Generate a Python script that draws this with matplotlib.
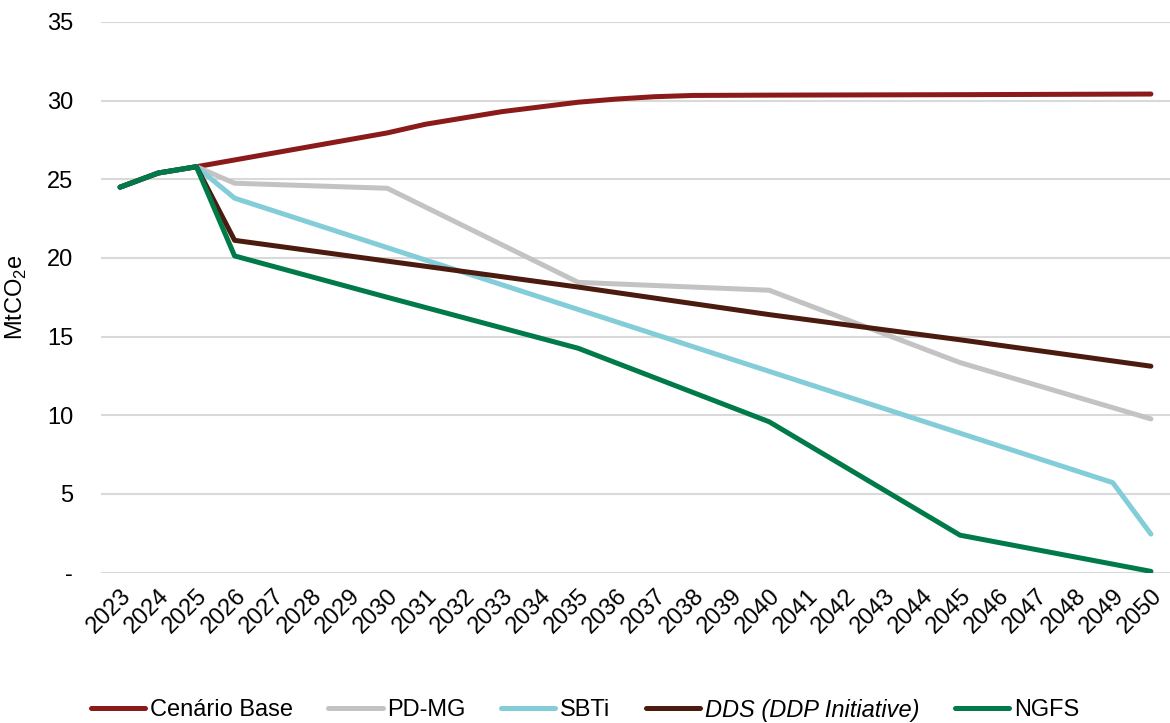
import numpy as np
import matplotlib
matplotlib.use("Agg")
import matplotlib.pyplot as plt

plt.rcParams['font.family'] = ['Liberation Sans', 'DejaVu Sans']

# values (MtCO2e)
years_all = list(range(2023, 2051))

base_years = [2023, 2024, 2025, 2030, 2031, 2032, 2033, 2034, 2035, 2036, 2037, 2038, 2040, 2045, 2050]
base_vals = [24.5, 25.4, 25.8, 27.95, 28.5, 28.9, 29.3, 29.6, 29.9, 30.1, 30.25, 30.33, 30.35, 30.38, 30.42]

pdmg_years = [2023, 2024, 2025, 2026, 2030, 2035, 2040, 2045, 2050]
pdmg_vals = [24.5, 25.4, 25.8, 24.75, 24.43, 18.45, 17.95, 13.35, 9.77]

sbti_years = [2023, 2024, 2025, 2026, 2049, 2050]
sbti_vals = [24.5, 25.4, 25.8, 23.8, 5.72, 2.45]

dds_years = [2023, 2024, 2025, 2026, 2030, 2035, 2040, 2045, 2050]
dds_vals = [24.5, 25.4, 25.8, 21.12, 19.8, 18.15, 16.4, 14.8, 13.12]

ngfs_years = [2023, 2024, 2025, 2026, 2030, 2035, 2040, 2045, 2050]
ngfs_vals = [24.5, 25.4, 25.8, 20.13, 17.5, 14.26, 9.59, 2.38, 0.08]

fig = plt.figure(figsize=(11.7, 7.23), dpi=100)
ax = fig.add_axes([0.0863, 0.208, 0.9137, 0.7616])

lw = 3.6
ax.plot(base_years, base_vals, color='#8b1a1a', lw=lw, solid_capstyle='round', label='Cenário Base')
ax.plot(pdmg_years, pdmg_vals, color='#c3c3c3', lw=lw, solid_capstyle='round', label='PD-MG')
ax.plot(sbti_years, sbti_vals, color='#83cdd9', lw=lw, solid_capstyle='round', label='SBTi')
ax.plot(dds_years, dds_vals, color='#4b1b0f', lw=lw, solid_capstyle='round', label='DDS (DDP Initiative)')
ax.plot(ngfs_years, ngfs_vals, color='#007a48', lw=lw, solid_capstyle='round', label='NGFS')

fs = 17
ax.set_xlim(2022.5, 2050.5)
ax.set_ylim(0, 35)
ax.set_yticks(range(0, 36, 5))
ax.set_yticklabels(['-'] + [str(v) for v in range(5, 36, 5)], fontsize=fs)
ax.set_xticks(years_all)
ax.set_xticklabels([str(y) for y in years_all], fontsize=fs, rotation=45,
                   ha='right', va='top', rotation_mode='anchor')
ax.tick_params(axis='both', length=0)
ax.tick_params(axis='y', pad=20)
ax.tick_params(axis='x', pad=9)
ax.grid(axis='y', color='#d9d9d9', lw=1.5)
ax.set_axisbelow(True)
for s in ax.spines.values():
    s.set_visible(False)

ax.set_ylabel(r'MtCO$_\mathregular{2}$e', fontsize=fs)
ax.yaxis.set_label_coords(-0.0675, 0.5)

leg = fig.legend(loc='center', bbox_to_anchor=(0.5, 1 - 710 / 723), ncol=5, frameon=False,
                 fontsize=fs, handlelength=2.3, handletextpad=0.2, columnspacing=1.5)
for t in leg.get_texts():
    if t.get_text().startswith('DDS'):
        t.set_style('italic')

fig.savefig('out.png', dpi=100)
